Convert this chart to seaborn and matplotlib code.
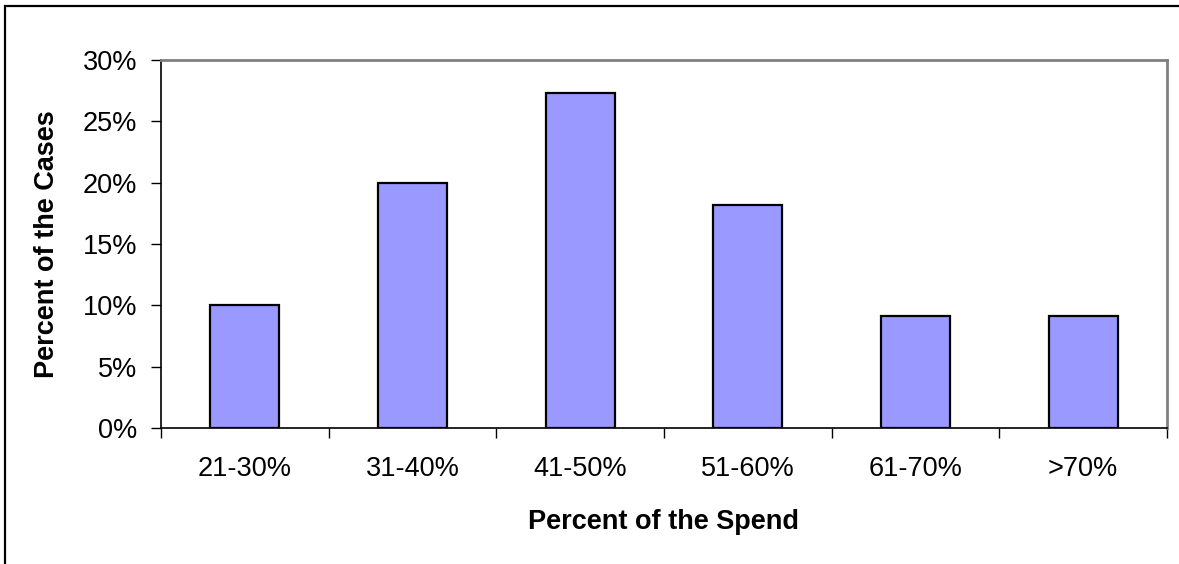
import matplotlib
matplotlib.use("Agg")
import matplotlib.pyplot as plt
import numpy as np
import pandas as pd
import seaborn as sns
from matplotlib.patches import Rectangle
from matplotlib.ticker import PercentFormatter, FixedLocator

categories = ['21-30%', '31-40%', '41-50%', '51-60%', '61-70%', '>70%']
cases = [10.0, 20.0, 27.3, 18.2, 9.1, 9.1]

BAR = '#9999FF'
FS = 19.5

def plot():
    df = pd.DataFrame({'spend': categories, 'cases': cases})
    sns.set_style('white')
    plt.rcParams['font.family'] = ['Liberation Sans', 'DejaVu Sans']
    plt.rcParams['text.color'] = 'black'
    plt.rcParams['axes.labelcolor'] = 'black'
    plt.rcParams['xtick.color'] = 'black'
    plt.rcParams['ytick.color'] = 'black'

    fig = plt.figure(figsize=(11.79, 5.64), dpi=100)
    ax = fig.add_axes([161/1179, 1-428/564, (1167-161)/1179, (428-60)/564])

    sns.barplot(x='spend', y='cases', data=df, color=BAR, saturation=1,
                width=0.41, edgecolor='black', linewidth=1.6, ax=ax)

    ax.set_ylim(0, 30)
    ax.set_xlim(-0.5, len(categories) - 0.5)
    ax.set_yticks(np.arange(0, 31, 5))
    ax.yaxis.set_major_formatter(PercentFormatter(decimals=0))
    ax.tick_params(axis='y', which='major', left=True, length=7, width=1,
                   colors='black', labelsize=FS, pad=10)
    ax.tick_params(axis='x', which='major', length=0, labelsize=FS, pad=20,
                   colors='black')
    ax.xaxis.set_minor_locator(FixedLocator(np.arange(-0.5, len(categories), 1)))
    ax.tick_params(axis='x', which='minor', bottom=True, length=7, width=1,
                   color='black')

    for s in ['left', 'bottom']:
        ax.spines[s].set_color('black')
        ax.spines[s].set_linewidth(1.2)
    for s in ['top', 'right']:
        ax.spines[s].set_color('#808080')
        ax.spines[s].set_linewidth(2)

    ax.set_xlabel('Percent of the Spend', fontsize=FS, fontweight='bold',
                  va='center', color='black')
    ax.set_ylabel('Percent of the Cases', fontsize=FS, fontweight='bold',
                  va='center', color='black')
    ax.xaxis.set_label_coords(0.5, (428-522)/368)
    ax.yaxis.set_label_coords((47-161)/1006, 0.5)

    # chart area frame, cut off at the right and bottom like the original
    fig.patches.append(Rectangle((5/1179, -0.1), 1.2, 1-6/564+0.1,
                                 transform=fig.transFigure, fill=False,
                                 edgecolor='black', linewidth=1.6, clip_on=False))

    fig.savefig('out.png', dpi=100)

if __name__ == "__main__":
    plot()
